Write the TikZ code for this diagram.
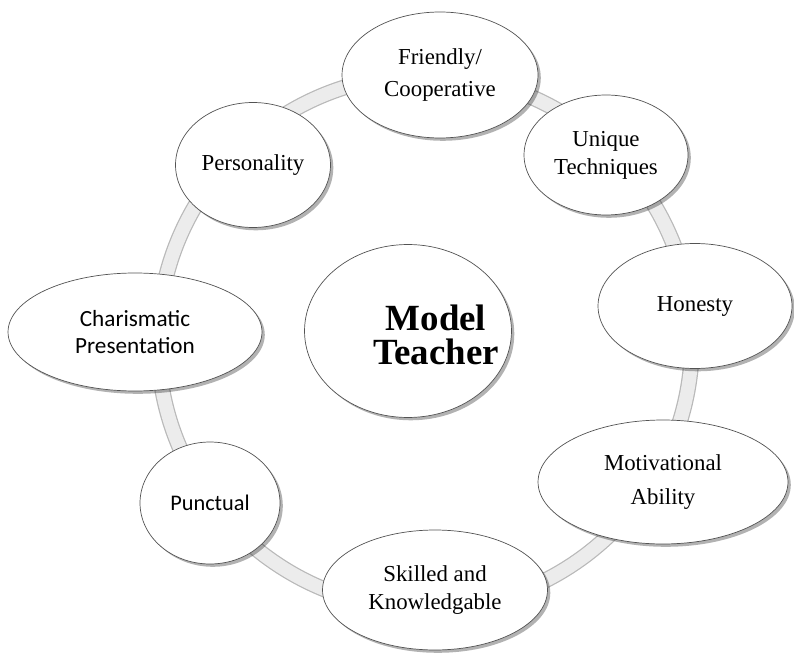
\documentclass[tikz,border=0pt]{standalone}
\usepackage{fontspec}
\setmainfont{Liberation Serif}
\newfontfamily\calibri{Carlito}
\usetikzlibrary{shapes.geometric,shadows}

\begin{document}
\begin{tikzpicture}[x=0.02cm, y=-0.02cm,
    trait/.style={ellipse, draw=gray!65!black, thin, fill=white, inner sep=0pt, align=center,
        font=\fontsize{13}{16}\selectfont,
        drop shadow={shadow xshift=1.6pt, shadow yshift=-1.6pt, opacity=0.3, fill=black}},
    ringline/.style={line width=0.32cm, gray!55},
    ringfill/.style={line width=0.27cm, gray!15}]
    \useasboundingbox (0,0) rectangle (794,658);

    % Ring behind the traits
    \coordinate (hub) at (425,342);
    \draw[ringline] (hub) circle[radius=5.34cm];
    \draw[ringfill] (hub) circle[radius=5.34cm];

    % Centre
    \node[trait, minimum width=4.14cm, minimum height=3.46cm] (teacher) at (408,331) {};
    \node[align=center, inner sep=0pt, font=\fontsize{21}{19}\selectfont\bfseries]
        (teacherlabel) at (436,335) {Model\\Teacher};

    % Traits around the ring
    \node[trait, minimum width=3.92cm, minimum height=2.52cm,
        font=\fontsize{13}{18}\selectfont] (friendly) at (440,75) {Friendly/\\Cooperative};
    \node[trait, minimum width=3.28cm, minimum height=2.40cm] (unique) at (606,155) {Unique\\Techniques};
    \node[trait, minimum width=3.88cm, minimum height=2.50cm] (honesty) at (695,306) {Honesty};
    \node[trait, minimum width=5.00cm, minimum height=2.48cm,
        font=\fontsize{13}{19}\selectfont] (motivation) at (663,482) {Motivational\\Ability};
    \node[trait, minimum width=4.50cm, minimum height=2.40cm] (skilled) at (435,590) {Skilled and\\Knowledgable};
    \node[trait, minimum width=2.80cm, minimum height=2.44cm,
        font=\calibri\fontsize{12.7}{15}\selectfont] (punctual) at (210,503) {Punctual};
    \node[trait, minimum width=5.08cm, minimum height=2.36cm,
        font=\calibri\fontsize{13.2}{15.5}\selectfont] (charisma) at (135,332) {Charismatic\\Presentation};
    \node[trait, minimum width=3.10cm, minimum height=2.50cm] (personality) at (253,165) {Personality};
\end{tikzpicture}
\end{document}
